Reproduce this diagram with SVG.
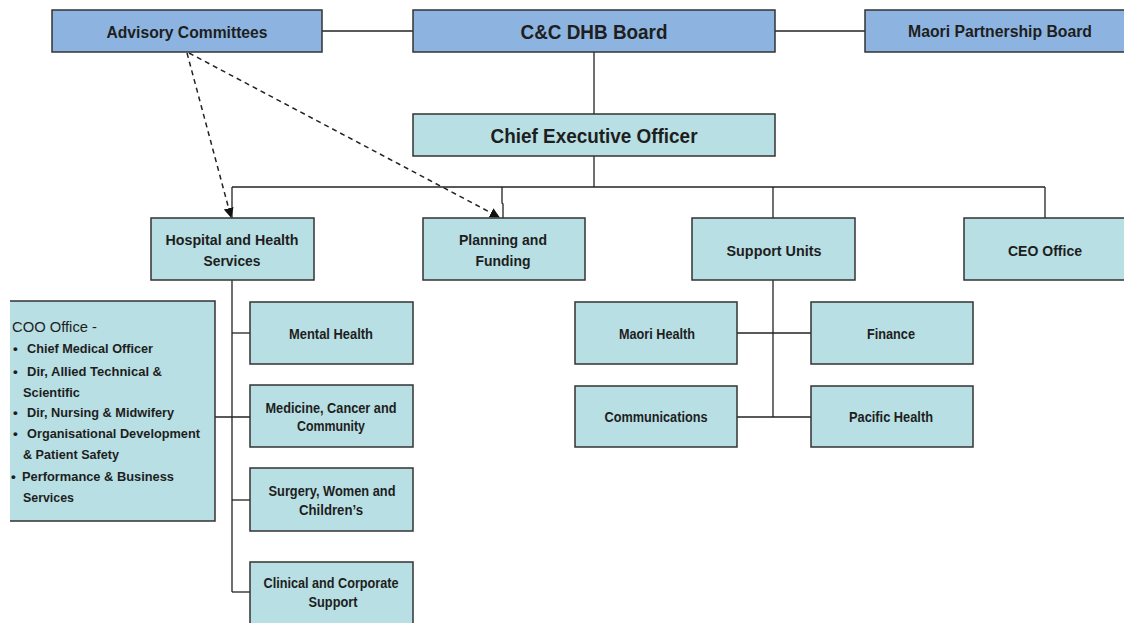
<svg xmlns="http://www.w3.org/2000/svg" width="1124" height="623" viewBox="0 0 1124 623">
  <style>
    .board { fill: #8DB4E0; stroke: #333; stroke-width: 1.5; }
    .unit { fill: #B8DFE3; stroke: #333; stroke-width: 1.5; }
    .lbl { font-family: "Liberation Sans", Arial, sans-serif; font-weight: bold; fill: #1E1E1E; text-anchor: middle; }
    .sub { font-size: 14px; }
    .lst { font-family: "Liberation Sans", Arial, sans-serif; font-weight: bold; fill: #1E1E1E; font-size: 13.5px; }
    .conn { stroke: #222; stroke-width: 1.3; fill: none; }
    .dash { stroke: #222; stroke-width: 1.5; fill: none; stroke-dasharray: 5 4; }
  </style>
  <defs>
    <marker id="arrow" markerWidth="10" markerHeight="10" refX="9" refY="5" orient="auto" markerUnits="userSpaceOnUse">
      <path d="M0,0 L10,5 L0,10 Z" fill="#111"/>
    </marker>
  </defs>
  <rect width="1124" height="623" fill="#FFFFFF"/>

  <!-- connectors -->
  <g id="connectors">
    <line class="conn" x1="322" y1="31" x2="413" y2="31"/>
    <line class="conn" x1="775" y1="31" x2="865" y2="31"/>
    <line class="conn" x1="594" y1="52" x2="594" y2="114"/>
    <line class="conn" x1="594" y1="156" x2="594" y2="187"/>
    <line class="conn" x1="232" y1="187" x2="1045" y2="187"/>
    <line class="conn" x1="232" y1="187" x2="232" y2="218"/>
    <polyline class="conn" points="502,187 502,203 503,204 503,218"/>
    <line class="conn" x1="773" y1="187" x2="773" y2="218"/>
    <line class="conn" x1="1045" y1="187" x2="1045" y2="218"/>
    <!-- hospital branch -->
    <line class="conn" x1="232" y1="280" x2="232" y2="592"/>
    <line class="conn" x1="232" y1="333" x2="250" y2="333"/>
    <line class="conn" x1="215" y1="417" x2="250" y2="417"/>
    <line class="conn" x1="232" y1="500" x2="250" y2="500"/>
    <line class="conn" x1="232" y1="592" x2="250" y2="592"/>
    <!-- support units branch -->
    <line class="conn" x1="773" y1="280" x2="773" y2="417"/>
    <line class="conn" x1="737" y1="333" x2="811" y2="333"/>
    <line class="conn" x1="737" y1="417" x2="811" y2="417"/>
    <!-- advisory links -->
    <line class="dash" x1="187" y1="53" x2="231" y2="217" marker-end="url(#arrow)"/>
    <line class="dash" x1="189" y1="53" x2="499" y2="217" marker-end="url(#arrow)"/>
  </g>

  <g id="advisory">
    <rect class="board" x="52" y="10" width="270" height="42"/>
    <text class="lbl" x="187" y="38" font-size="17" textLength="161" lengthAdjust="spacingAndGlyphs">Advisory Committees</text>
  </g>
  <g id="board">
    <rect class="board" x="413" y="10" width="362" height="42"/>
    <text class="lbl" x="594" y="39" font-size="21" textLength="147" lengthAdjust="spacingAndGlyphs">C&amp;C DHB Board</text>
  </g>
  <g id="maori-partnership">
    <rect class="board" x="865" y="10" width="262" height="42"/>
    <text class="lbl" x="1000" y="37" font-size="16" textLength="184" lengthAdjust="spacingAndGlyphs">Maori Partnership Board</text>
  </g>
  <g id="ceo">
    <rect class="unit" x="413" y="114" width="362" height="42"/>
    <text class="lbl" x="594" y="143" font-size="21" textLength="207" lengthAdjust="spacingAndGlyphs">Chief Executive Officer</text>
  </g>

  <g id="hospital">
    <rect class="unit" x="151" y="218" width="163" height="62"/>
    <text class="lbl" x="232" y="245" font-size="15" textLength="133" lengthAdjust="spacingAndGlyphs">Hospital and Health</text>
    <text class="lbl" x="232" y="266" font-size="15" textLength="57" lengthAdjust="spacingAndGlyphs">Services</text>
  </g>
  <g id="planning">
    <rect class="unit" x="423" y="218" width="162" height="62"/>
    <text class="lbl" x="503" y="245" font-size="15" textLength="88" lengthAdjust="spacingAndGlyphs">Planning and</text>
    <text class="lbl" x="503" y="266" font-size="15" textLength="55" lengthAdjust="spacingAndGlyphs">Funding</text>
  </g>
  <g id="support">
    <rect class="unit" x="692" y="218" width="163" height="62"/>
    <text class="lbl" x="774" y="256" font-size="15" textLength="95" lengthAdjust="spacingAndGlyphs">Support Units</text>
  </g>
  <g id="ceo-office">
    <rect class="unit" x="964" y="218" width="164" height="62"/>
    <text class="lbl" x="1045" y="256" font-size="15" textLength="74" lengthAdjust="spacingAndGlyphs">CEO Office</text>
  </g>

  <g id="coo-office">
    <rect x="10" y="301" width="205" height="220" fill="#B8DFE3"/>
    <path d="M10,301 H215 V521 H10" fill="none" stroke="#333" stroke-width="1.5"/>
    <text x="12" y="332" font-family="Liberation Sans, Arial, sans-serif" font-size="14" fill="#1E1E1E" textLength="85" lengthAdjust="spacingAndGlyphs">COO Office -</text>
    <text class="lst" x="13" y="353">•</text><text class="lst" x="27" y="353" textLength="126" lengthAdjust="spacingAndGlyphs">Chief Medical Officer</text>
    <text class="lst" x="13" y="376">•</text><text class="lst" x="27" y="376" textLength="135" lengthAdjust="spacingAndGlyphs">Dir, Allied Technical &amp;</text>
    <text class="lst" x="23" y="397" textLength="57" lengthAdjust="spacingAndGlyphs">Scientific</text>
    <text class="lst" x="13" y="417">•</text><text class="lst" x="27" y="417" textLength="147" lengthAdjust="spacingAndGlyphs">Dir, Nursing &amp; Midwifery</text>
    <text class="lst" x="13" y="438">•</text><text class="lst" x="27" y="438" textLength="173" lengthAdjust="spacingAndGlyphs">Organisational Development</text>
    <text class="lst" x="23" y="459" textLength="96" lengthAdjust="spacingAndGlyphs">&amp; Patient Safety</text>
    <text class="lst" x="11" y="481">•</text><text class="lst" x="22" y="481" textLength="152" lengthAdjust="spacingAndGlyphs">Performance &amp; Business</text>
    <text class="lst" x="23" y="502" textLength="51" lengthAdjust="spacingAndGlyphs">Services</text>
  </g>

  <g id="mental-health">
    <rect class="unit" x="250" y="302" width="163" height="62"/>
    <text class="lbl sub" x="331" y="339" textLength="84" lengthAdjust="spacingAndGlyphs">Mental Health</text>
  </g>
  <g id="medicine">
    <rect class="unit" x="250" y="385" width="163" height="62"/>
    <text class="lbl sub" x="331" y="413" textLength="131" lengthAdjust="spacingAndGlyphs">Medicine, Cancer and</text>
    <text class="lbl sub" x="331" y="431" textLength="68" lengthAdjust="spacingAndGlyphs">Community</text>
  </g>
  <g id="surgery">
    <rect class="unit" x="250" y="468" width="163" height="63"/>
    <text class="lbl sub" x="332" y="496" textLength="127" lengthAdjust="spacingAndGlyphs">Surgery, Women and</text>
    <text class="lbl sub" x="331" y="515" textLength="64" lengthAdjust="spacingAndGlyphs">Children’s</text>
  </g>
  <g id="clinical">
    <rect class="unit" x="250" y="562" width="163" height="70"/>
    <text class="lbl sub" x="331" y="588" textLength="135" lengthAdjust="spacingAndGlyphs">Clinical and Corporate</text>
    <text class="lbl sub" x="333" y="607" textLength="49" lengthAdjust="spacingAndGlyphs">Support</text>
  </g>

  <g id="maori-health">
    <rect class="unit" x="575" y="302" width="162" height="62"/>
    <text class="lbl sub" x="657" y="339" textLength="76" lengthAdjust="spacingAndGlyphs">Maori Health</text>
  </g>
  <g id="finance">
    <rect class="unit" x="811" y="302" width="162" height="62"/>
    <text class="lbl sub" x="891" y="339" textLength="48" lengthAdjust="spacingAndGlyphs">Finance</text>
  </g>
  <g id="communications">
    <rect class="unit" x="575" y="386" width="162" height="61"/>
    <text class="lbl sub" x="656" y="422" textLength="103" lengthAdjust="spacingAndGlyphs">Communications</text>
  </g>
  <g id="pacific-health">
    <rect class="unit" x="811" y="386" width="162" height="61"/>
    <text class="lbl sub" x="891" y="422" textLength="84" lengthAdjust="spacingAndGlyphs">Pacific Health</text>
  </g>
</svg>
